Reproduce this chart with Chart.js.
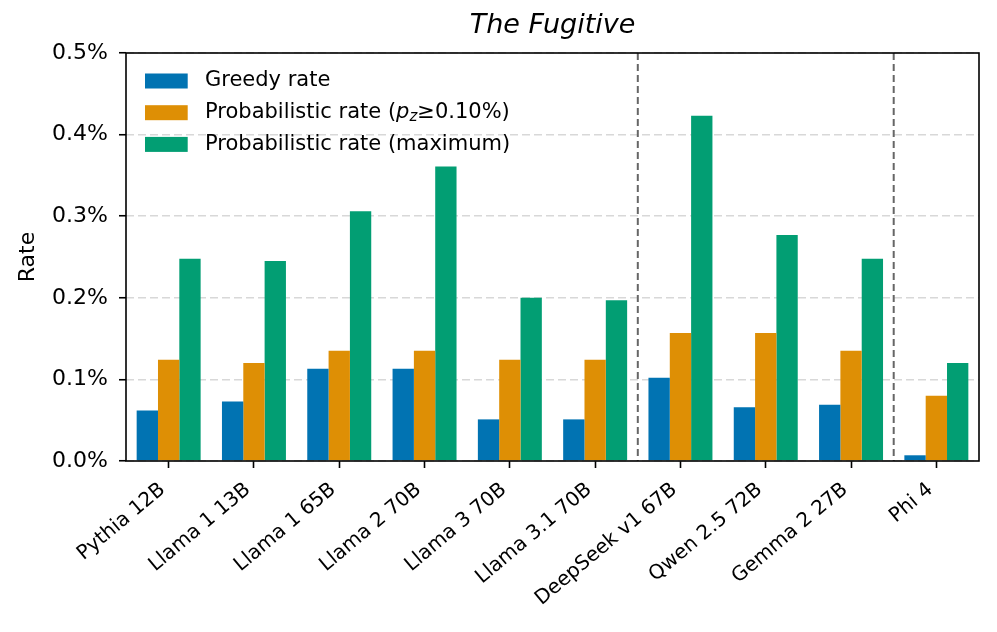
<!DOCTYPE html>
<html>
<head>
<meta charset="utf-8">
<script src="https://cdn.jsdelivr.net/npm/chart.js@4.4.1/dist/chart.umd.min.js"></script>
<style>
  html, body { margin: 0; padding: 0; background: #ffffff; }
  #wrap { width: 997px; height: 632px; }
</style>
</head>
<body>
<div id="wrap"><canvas id="c" width="997" height="632"></canvas></div>
<script>
const categories = ['Pythia 12B', 'Llama 1 13B', 'Llama 1 65B', 'Llama 2 70B', 'Llama 3 70B',
  'Llama 3.1 70B', 'DeepSeek v1 67B', 'Qwen 2.5 72B', 'Gemma 2 27B', 'Phi 4'];
const greedyRate = [0.062, 0.073, 0.113, 0.113, 0.051, 0.051, 0.102, 0.066, 0.069, 0.007];
const probThresholdRate = [0.124, 0.120, 0.135, 0.135, 0.124, 0.124, 0.157, 0.157, 0.135, 0.080];
const probMaxRate = [0.248, 0.245, 0.306, 0.361, 0.200, 0.197, 0.423, 0.277, 0.248, 0.120];
const seriesLabels = ['Greedy rate', 'Probabilistic rate (p_z≥0.10%)', 'Probabilistic rate (maximum)'];
const yTickValues = [0.0, 0.1, 0.2, 0.3, 0.4, 0.5];
const groupSeparatorsBefore = ['DeepSeek v1 67B', 'Phi 4'];

const FONT = 'DejaVu Sans';
const colors = ['#0173b2', '#de8f05', '#029e73'];

const framePlugin = {
  id: 'frame',
  afterDatasetsDraw(chart) {
    const {ctx, chartArea: a, scales: {x}} = chart;
    ctx.save();
    // group separators
    ctx.strokeStyle = '#666666';
    ctx.lineWidth = 2;
    ctx.setLineDash([7, 4]);
    groupSeparatorsBefore.forEach(name => {
      const i = categories.indexOf(name);
      const px = (x.getPixelForValue(i - 1) + x.getPixelForValue(i)) / 2;
      ctx.beginPath();
      ctx.moveTo(px, a.top);
      ctx.lineTo(px, a.bottom);
      ctx.stroke();
    });
    ctx.setLineDash([]);
    ctx.strokeStyle = '#000000';
    ctx.lineWidth = 1.6;
    ctx.strokeRect(a.left, a.top, a.right - a.left, a.bottom - a.top);
    ctx.restore();
  }
};

const legendPlugin = {
  id: 'richLegend',
  afterDatasetsDraw(chart) {
    const {ctx, chartArea: a} = chart;
    const fs = 21;
    ctx.save();
    chart.data.datasets.forEach((ds, k) => {
      const bx = a.left + 19;
      const by = a.top + 20.5 + k * 31.7;
      ctx.fillStyle = ds.backgroundColor;
      ctx.fillRect(bx, by, 42.7, 15);
      const cy = by + 7.5;
      let tx = bx + 60;
      ctx.fillStyle = '#000000';
      ctx.textBaseline = 'middle';
      ctx.textAlign = 'left';
      const label = ds.label;
      const m = label.match(/^(.*)p_z(.*)$/);
      if (m) {
        ctx.font = fs + 'px "' + FONT + '"';
        ctx.fillText(m[1], tx, cy); tx += ctx.measureText(m[1]).width;
        ctx.font = 'italic ' + fs + 'px "' + FONT + '"';
        ctx.fillText('p', tx, cy); tx += ctx.measureText('p').width;
        ctx.font = 'italic ' + Math.round(fs * 0.7) + 'px "' + FONT + '"';
        ctx.fillText('z', tx, cy + fs * 0.22); tx += ctx.measureText('z').width;
        ctx.font = fs + 'px "' + FONT + '"';
        ctx.fillText(m[2], tx, cy);
      } else {
        ctx.font = fs + 'px "' + FONT + '"';
        ctx.fillText(label, tx, cy);
      }
    });
    ctx.restore();
  }
};

new Chart(document.getElementById('c'), {
  type: 'bar',
  data: {
    labels: categories,
    datasets: [
      { label: seriesLabels[0], data: greedyRate, backgroundColor: colors[0] },
      { label: seriesLabels[1], data: probThresholdRate, backgroundColor: colors[1] },
      { label: seriesLabels[2], data: probMaxRate, backgroundColor: colors[2] }
    ]
  },
  options: {
    responsive: false,
    animation: false,
    devicePixelRatio: 1,
    layout: { padding: { left: 0, right: 18, top: 0, bottom: 0 } },
    datasets: { bar: { categoryPercentage: 0.75, barPercentage: 1.0, borderWidth: 0 } },
    plugins: {
      legend: { display: false },
      tooltip: { enabled: false },
      title: {
        display: true,
        text: 'The Fugitive',
        fullSize: false,
        color: '#000000',
        font: { family: FONT, size: 27, style: 'italic', weight: 'normal', lineHeight: 1.2 },
        padding: { top: 10, bottom: 10.6 }
      }
    },
    scales: {
      x: {
        offset: true,
        afterFit(s) { s.height = 171; },
        grid: { display: true, offset: false, drawOnChartArea: false, drawTicks: true, tickLength: 7,
                tickColor: '#000000', tickWidth: 1.6, tickBorderDash: [] },
        border: { display: false },
        ticks: {
          color: '#000000', autoSkip: false, maxRotation: 40, minRotation: 40, padding: 10,
          labelOffset: -6,
          font: { family: FONT, size: 20 }
        }
      },
      y: {
        min: 0, max: 0.5,
        afterFit(s) { s.width = 126; },
        afterBuildTicks(s) { s.ticks = yTickValues.map(v => ({ value: v })); },
        grid: { display: true, drawOnChartArea: true, drawTicks: true, tickLength: 7,
                color: 'rgba(200,200,200,0.7)', lineWidth: 1.5,
                tickColor: '#000000', tickWidth: 1.6, tickBorderDash: [] },
        border: { display: false, dash: [8, 4] },
        ticks: {
          color: '#000000', padding: 11,
          font: { family: FONT, size: 22 },
          callback: v => v.toFixed(1) + '%'
        },
        title: {
          display: true, text: 'Rate', color: '#000000',
          font: { family: FONT, size: 22 }, padding: { top: 15, bottom: 0 }
        }
      }
    }
  },
  plugins: [framePlugin, legendPlugin]
});
</script>
</body>
</html>
